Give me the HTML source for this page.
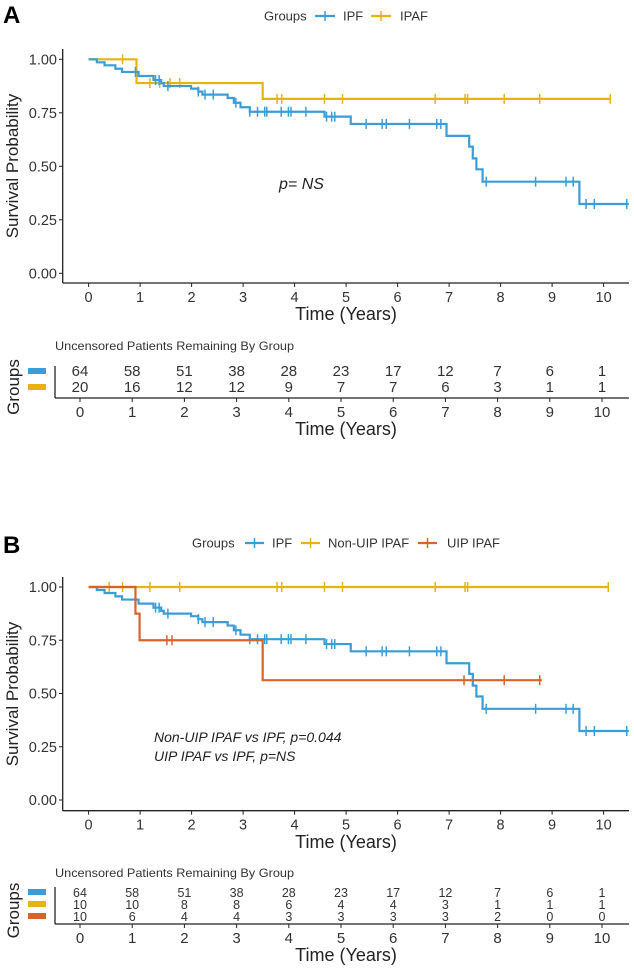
<!DOCTYPE html>
<html><head><meta charset="utf-8"><style>
html,body{margin:0;padding:0;background:#fff;}
svg{display:block;font-family:"Liberation Sans",sans-serif;}
</style></head><body>
<svg id="fig" width="634" height="972" viewBox="0 0 634 972"></svg>
<script>
// ---- data ----
const ipfTimes=[0,0.16,0.31,0.52,0.65,0.97,1.26,1.41,1.46,1.99,2.13,2.21,2.70,2.82,2.95,3.13,4.58,5.09,6.95,7.39,7.46,7.53,7.65,9.53];
const ipfSurv=[1,0.986,0.972,0.956,0.941,0.922,0.903,0.888,0.875,0.863,0.849,0.835,0.819,0.797,0.776,0.755,0.732,0.698,0.642,0.592,0.537,0.486,0.428,0.324];
const ipfEnd=10.49;
const ipfCens=[0.91,1.30,1.37,1.54,2.13,2.26,2.42,2.86,3.13,3.28,3.42,3.46,3.74,3.88,3.93,4.22,4.62,4.72,4.78,5.39,5.70,5.78,6.23,6.76,6.84,7.72,8.68,9.27,9.41,9.66,9.82,10.45];
const ipafTimes=[0,0.93,3.38];
const ipafSurv=[1,0.889,0.815];
const ipafEnd=10.13;
const ipafCens=[0.66,1.19,1.38,1.58,1.77,3.66,3.75,4.58,4.93,6.73,7.31,7.36,8.07,8.76,10.13];
const nonUipTimes=[0];
const nonUipSurv=[1];
const nonUipEnd=10.09;
const nonUipCens=[0.40,0.66,1.19,1.77,3.66,3.75,4.58,4.93,6.73,7.31,7.36,10.09];
const uipTimes=[0,0.91,0.99,3.38];
const uipSurv=[1,0.875,0.75,0.5625];
const uipEnd=8.8;
const uipCens=[1.52,1.62,7.29,8.07,8.76];
const xTicks=[0,1,2,3,4,5,6,7,8,9,10];
const yTicks=[0,0.25,0.5,0.75,1];
const riskA_ipf=[64,58,51,38,28,23,17,12,7,6,1];
const riskA_ipaf=[20,16,12,12,9,7,7,6,3,1,1];
const riskB_ipf=[64,58,51,38,28,23,17,12,7,6,1];
const riskB_nonuip=[10,10,8,8,6,4,4,3,1,1,1];
const riskB_uip=[10,6,4,4,3,3,3,3,2,0,0];

const BLUE="#3a9dd8",YEL="#e5b412",ORG="#d9632a",AX="#222";
const svg=document.getElementById('fig');
const NS="http://www.w3.org/2000/svg";
function mk(tag,attrs,parent,text){const e=document.createElementNS(NS,tag);for(const k in attrs)e.setAttribute(k,attrs[k]);if(text!==undefined)e.textContent=text;(parent||svg).appendChild(e);return e;}
const X=t=>88.6+t*51.5;

function panel(name,y1,y0,axTop,axBot,series){
  const g=mk('g',{},svg);
  
  
  const Y=s=>y0+(y1-y0)*s;
  mk('line',{x1:62.7,y1:axTop,x2:62.7,y2:axBot,stroke:AX,'stroke-width':1.3},g);
  mk('line',{x1:62.7,y1:axBot,x2:629,y2:axBot,stroke:AX,'stroke-width':1.3},g);
  yTicks.forEach(v=>{
    mk('line',{x1:59,y1:Y(v),x2:62.7,y2:Y(v),stroke:AX,'stroke-width':1},g);
    const t=mk('text',{x:57,y:Y(v)+5,'text-anchor':'end','font-size':14.5,fill:'#333'},g,v.toFixed(2));
    
  });
  xTicks.forEach(v=>{
    mk('line',{x1:X(v),y1:axBot,x2:X(v),y2:axBot+4,stroke:AX,'stroke-width':1},g);
    const t=mk('text',{x:X(v),y:axBot+19,'text-anchor':'middle','font-size':14.5,fill:'#333'},g,String(v));
    
  });
  series.forEach(s=>{
    let d='M'+X(s.t[0])+','+Y(s.s[0]);
    for(let i=1;i<s.t.length;i++){d+=' H'+X(s.t[i])+' V'+Y(s.s[i]);}
    d+=' H'+X(s.end);
    const p=mk('path',{d:d,fill:'none',stroke:s.c,'stroke-width':2.2},g);
    
    s.cens.forEach(ct=>{
      let v=s.s[0];for(let i=0;i<s.t.length;i++){if(s.t[i]<=ct)v=s.s[i];}
      const m=mk('line',{x1:X(ct),y1:Y(v)-5,x2:X(ct),y2:Y(v)+5,stroke:s.c,'stroke-width':1.5},g);
      
    });
  });
  return Y;
}
function table(name,titleY,rowYs,axY,rows,cols,fs){
  const g=mk('g',{},svg);
  
  
  mk('text',{x:55,y:titleY,'font-size':12,fill:'#333',textLength:239,lengthAdjust:'spacingAndGlyphs'},g,'Uncensored Patients Remaining By Group');
  mk('line',{x1:55,y1:rowYs[0]-10,x2:55,y2:axY,stroke:AX,'stroke-width':1.3},g);
  mk('line',{x1:55,y1:axY,x2:629,y2:axY,stroke:AX,'stroke-width':1.3},g);
  rows.forEach((r,ri)=>{
    const sw=mk('rect',{x:28,y:rowYs[ri]-8,width:18,height:6,fill:cols[ri]},g);
    
    r.forEach((v,i)=>{
      const t=mk('text',{x:X(0)-8.6+i*52.2,y:rowYs[ri],'text-anchor':'middle','font-size':fs,fill:'#333'},g,String(v));
      
    });
  });
  xTicks.forEach((v,i)=>{
    const xx=X(0)-8.6+i*52.2;
    mk('line',{x1:xx,y1:axY,x2:xx,y2:axY+4,stroke:AX,'stroke-width':1},g);
    mk('text',{x:xx,y:axY+19,'text-anchor':'middle','font-size':15,fill:'#333'},g,String(v));
  });
  const mid=(rowYs[0]+axY)/2;
  mk('text',{x:0,y:0,transform:`translate(19,${mid}) rotate(-90)`,'text-anchor':'middle','font-size':17,fill:'#222'},g,'Groups');
  mk('text',{x:346,y:axY+37,'text-anchor':'middle','font-size':18,fill:'#222'},g,'Time (Years)');
}
function legend(y,items){
  const g=mk('g',{},svg);
  
  items.forEach(it=>{
    if(it.c){mk('line',{x1:it.x1,y1:y,x2:it.x2,y2:y,stroke:it.c,'stroke-width':2.2},g);
      mk('line',{x1:(it.x1+it.x2)/2,y1:y-5,x2:(it.x1+it.x2)/2,y2:y+5,stroke:it.c,'stroke-width':1.5},g);}
    const t=mk('text',{x:it.tx,y:y+4.5,'font-size':13,fill:'#333'},g,it.label);
    
  });
}
// Panel A
mk('text',{x:3,y:23,'font-size':24,'font-weight':'bold',fill:'#000'},svg,'A');
legend(16,[{tx:264,label:'Groups'},{c:BLUE,x1:315,x2:335,tx:343,label:'IPF'},{c:YEL,x1:371,x2:391,tx:400,label:'IPAF'}]);
panel('panel-a',59.3,273.3,49,283,[
  {n:'ipaf',t:ipafTimes,s:ipafSurv,end:ipafEnd,cens:ipafCens,c:YEL},
  {n:'ipf',t:ipfTimes,s:ipfSurv,end:ipfEnd,cens:ipfCens,c:BLUE}]);
mk('text',{x:0,y:0,transform:'translate(18,166) rotate(-90)','text-anchor':'middle','font-size':17,fill:'#222'},svg,'Survival Probability');
mk('text',{x:346,y:320,'text-anchor':'middle','font-size':18,fill:'#222'},svg,'Time (Years)');
mk('text',{x:279,y:189,'font-size':16,'font-style':'italic',fill:'#222'},svg,'p= NS');
table('panel-a',350,[376,392],398,[riskA_ipf,riskA_ipaf],[BLUE,YEL],15);

// Panel B
mk('text',{x:3,y:553,'font-size':24,'font-weight':'bold',fill:'#000'},svg,'B');
legend(543,[{tx:192,label:'Groups'},{c:BLUE,x1:245,x2:264,tx:272,label:'IPF'},{c:YEL,x1:301,x2:320,tx:328,label:'Non-UIP IPAF'},{c:ORG,x1:418,x2:437,tx:447,label:'UIP IPAF'}]);
panel('panel-b',587,800,577,810.7,[
  {n:'non-uip-ipaf',t:nonUipTimes,s:nonUipSurv,end:nonUipEnd,cens:nonUipCens,c:YEL},
  {n:'ipf',t:ipfTimes,s:ipfSurv,end:ipfEnd,cens:ipfCens,c:BLUE},
  {n:'uip-ipaf',t:uipTimes,s:uipSurv,end:uipEnd,cens:uipCens,c:ORG}]);
mk('text',{x:0,y:0,transform:'translate(18,694) rotate(-90)','text-anchor':'middle','font-size':17,fill:'#222'},svg,'Survival Probability');
mk('text',{x:346,y:848,'text-anchor':'middle','font-size':18,fill:'#222'},svg,'Time (Years)');
mk('text',{x:154,y:742,'font-size':14,'font-style':'italic',fill:'#222'},svg,'Non-UIP IPAF vs IPF, p=0.044');
mk('text',{x:154,y:761,'font-size':14,'font-style':'italic',fill:'#222'},svg,'UIP IPAF vs IPF, p=NS');
table('panel-b',877,[897,909,921],924,[riskB_ipf,riskB_nonuip,riskB_uip],[BLUE,YEL,ORG],12.5);
</script>
</body></html>
